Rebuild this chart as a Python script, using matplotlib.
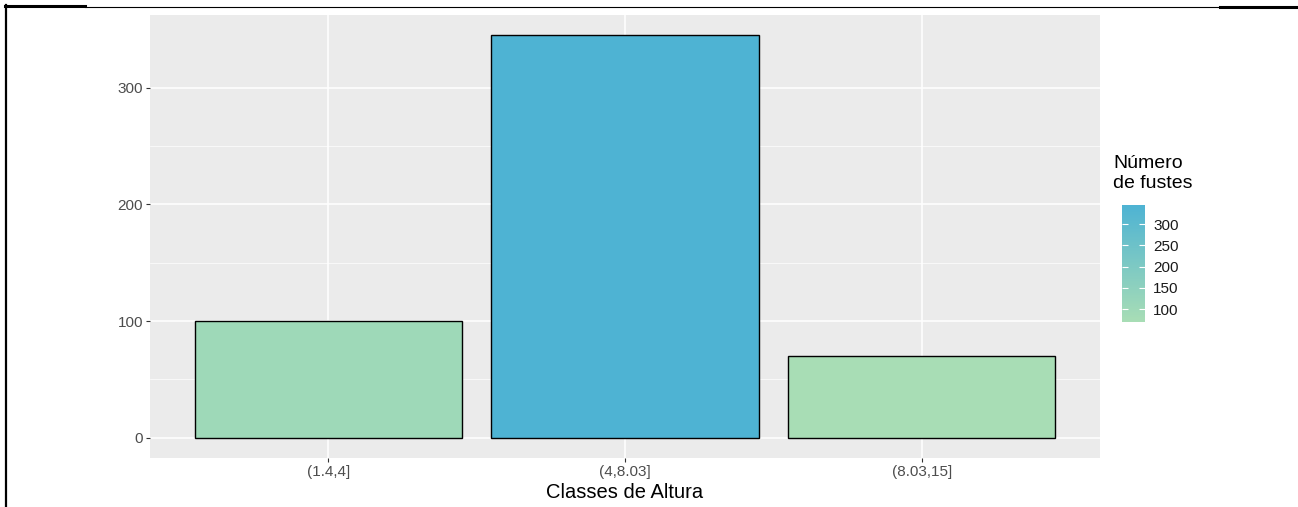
import numpy as np
import matplotlib
matplotlib.use('Agg')
import matplotlib.pyplot as plt
from matplotlib.colors import LinearSegmentedColormap, Normalize
from matplotlib.cm import ScalarMappable
from matplotlib.lines import Line2D

plt.rcParams['font.family'] = ['Liberation Sans', 'DejaVu Sans']

# data
classes = ['(1.4,4]', '(4,8.03]', '(8.03,15]']
fustes = [100, 345, 70]
y_ticks = [0, 100, 200, 300]
legend_ticks = [100, 150, 200, 250, 300]

W, H = 1298, 507
fig = plt.figure(figsize=(W / 100, H / 100), dpi=100)

# panel placed in pixel units
px_l, px_r, px_t, px_b = 150, 1100, 15, 458
ax = fig.add_axes([px_l / W, 1 - px_b / H, (px_r - px_l) / W, (px_b - px_t) / H])

cmap = LinearSegmentedColormap.from_list('fustes', ['#a8ddb5', '#4eb3d3'])
norm = Normalize(vmin=min(fustes), vmax=max(fustes))

x = np.arange(1, len(classes) + 1)
ax.bar(x, fustes, width=0.9, color=[cmap(norm(v)) for v in fustes],
       edgecolor='black', linewidth=1.0, zorder=3)

# ggplot-ish look
ax.set_facecolor('#ebebeb')
ymax = max(fustes)
ax.set_ylim(-0.05 * ymax, 1.05 * ymax)
ax.set_xlim(0.4, len(classes) + 0.6)
ax.set_yticks(y_ticks)
ax.set_yticks([50, 150, 250], minor=True)
ax.set_xticks(x)
ax.set_xticklabels(classes)
ax.grid(True, which='major', color='white', linewidth=1.1, zorder=0)
ax.grid(True, which='minor', axis='y', color='white', linewidth=0.5, zorder=0)
ax.set_axisbelow(True)
for s in ax.spines.values():
    s.set_visible(False)
ax.tick_params(axis='both', which='major', length=3, width=0.8, color='#333333',
               labelsize=11, labelcolor='#4d4d4d', pad=2)
ax.tick_params(axis='both', which='minor', length=0)
ax.set_xlabel('Classes de Altura', fontsize=14.5, labelpad=3)

# colour bar legend
cb_l, cb_r, cb_t, cb_b = 1122, 1145, 205, 322
cax = fig.add_axes([cb_l / W, 1 - cb_b / H, (cb_r - cb_l) / W, (cb_b - cb_t) / H])
sm = ScalarMappable(norm=norm, cmap=cmap)
cb = fig.colorbar(sm, cax=cax, ticks=legend_ticks)
cb.outline.set_visible(False)
cax.tick_params(direction='in', color='white', length=4.5, width=0.8,
                left=True, right=True, labelsize=11, labelcolor='#1a1a1a', pad=6)
fig.text(1113 / W, 1 - 155 / H, 'Número\nde fustes', ha='left', va='top',
         fontsize=14, linespacing=1.2)

# frame lines around the picture
def hline(x0, x1, y, lw):
    fig.add_artist(Line2D([x0 / W, x1 / W], [1 - y / H, 1 - y / H],
                          color='black', linewidth=lw, transform=fig.transFigure))

hline(5, 85, 6, 2.2)
hline(85, 1220, 6.5, 0.8)
hline(1220, W, 6.5, 2.2)
fig.add_artist(Line2D([6 / W, 6 / W], [1 - 5 / H, 0], color='black',
                      linewidth=1.6, transform=fig.transFigure))

fig.savefig('out.png', dpi=100)
